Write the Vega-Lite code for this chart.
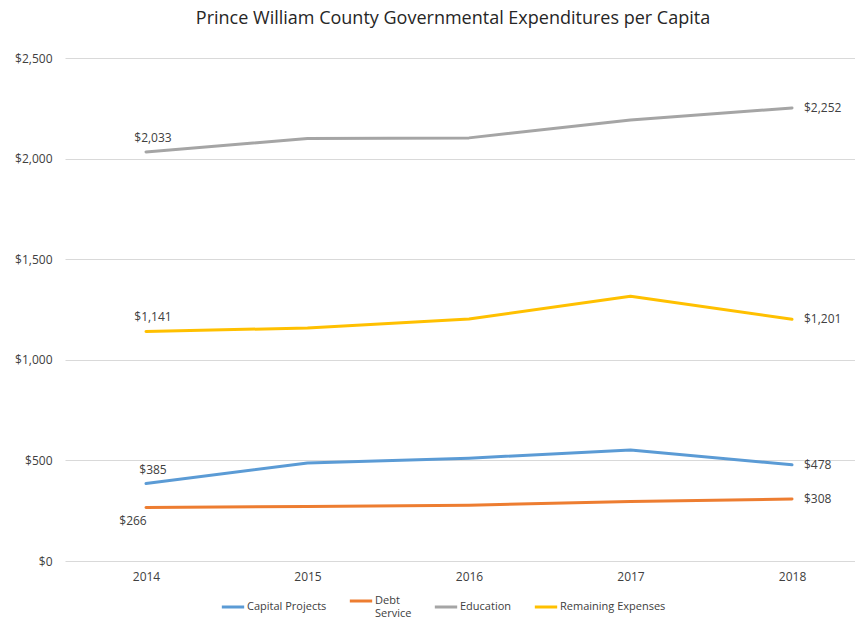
{
  "$schema": "https://vega.github.io/schema/vega-lite/v6.json",
  "autosize": {"type": "none"},
  "width": 790,
  "height": 503,
  "padding": {"left": 65, "top": 58, "right": 0, "bottom": 64},
  "background": "white",
  "config": {
    "font": "Open Sans",
    "view": {"stroke": null}
  },
  "title": {
    "text": "Prince William County Governmental Expenditures per Capita",
    "fontSize": 18,
    "fontWeight": "normal",
    "color": "#262626",
    "font": "Open Sans",
    "anchor": "middle",
    "frame": "group",
    "offset": 24,
    "dx": -7
  },
  "data": {
    "values": [
      {"year": 2014, "series": "Capital Projects", "value": 385},
      {"year": 2015, "series": "Capital Projects", "value": 487},
      {"year": 2016, "series": "Capital Projects", "value": 511},
      {"year": 2017, "series": "Capital Projects", "value": 552},
      {"year": 2018, "series": "Capital Projects", "value": 478},
      {"year": 2014, "series": "Debt Service", "value": 266},
      {"year": 2015, "series": "Debt Service", "value": 271},
      {"year": 2016, "series": "Debt Service", "value": 277},
      {"year": 2017, "series": "Debt Service", "value": 296},
      {"year": 2018, "series": "Debt Service", "value": 308},
      {"year": 2014, "series": "Education", "value": 2033},
      {"year": 2015, "series": "Education", "value": 2100},
      {"year": 2016, "series": "Education", "value": 2103},
      {"year": 2017, "series": "Education", "value": 2192},
      {"year": 2018, "series": "Education", "value": 2252},
      {"year": 2014, "series": "Remaining Expenses", "value": 1141},
      {"year": 2015, "series": "Remaining Expenses", "value": 1158},
      {"year": 2016, "series": "Remaining Expenses", "value": 1203},
      {"year": 2017, "series": "Remaining Expenses", "value": 1316},
      {"year": 2018, "series": "Remaining Expenses", "value": 1201}
    ]
  },
  "encoding": {
    "x": {
      "field": "year",
      "type": "quantitative",
      "scale": {"domain": [2013.4985, 2018.39], "nice": false, "zero": false},
      "axis": {
        "title": null,
        "values": [2014, 2015, 2016, 2017, 2018],
        "format": "d",
        "labelAngle": 0,
        "ticks": false,
        "domain": false,
        "grid": false,
        "labelFontSize": 12,
        "labelColor": "#404040",
        "labelPadding": 10
      }
    },
    "y": {
      "field": "value",
      "type": "quantitative",
      "scale": {"domain": [0, 2500]},
      "axis": {
        "title": null,
        "values": [0, 500, 1000, 1500, 2000, 2500],
        "format": "$,.0f",
        "ticks": false,
        "domain": false,
        "gridColor": "#d9d9d9",
        "gridWidth": 1,
        "labelFontSize": 12,
        "labelColor": "#404040",
        "labelPadding": 13
      }
    }
  },
  "layer": [
    {
      "mark": {"type": "line", "strokeWidth": 3, "strokeCap": "round", "strokeJoin": "round"},
      "encoding": {
        "color": {
          "field": "series",
          "type": "nominal",
          "scale": {
            "domain": ["Capital Projects", "Debt Service", "Education", "Remaining Expenses"],
            "range": ["#5B9BD5", "#ED7D31", "#A5A5A5", "#FFC000"]
          },
          "legend": {
            "title": null,
            "orient": "none",
            "direction": "horizontal",
            "legendX": 155,
            "legendY": 530,
            "symbolType": "stroke",
            "symbolStrokeWidth": 3,
            "symbolSize": 500,
            "labelFontSize": 11,
            "labelColor": "#404040",
            "labelOffset": 1,
            "columnPadding": 16,
            "labelExpr": "datum.label == 'Debt Service' ? ['Debt', 'Service'] : datum.label",
            "labelBaseline": "middle"
          }
        }
      }
    },
    {
      "transform": [{"filter": "datum.year == 2018"}],
      "mark": {"type": "text", "align": "left", "dx": 12, "fontSize": 12, "color": "#404040"},
      "encoding": {"text": {"field": "value", "type": "quantitative", "format": "$,.0f"}}
    },
    {
      "transform": [{"filter": "datum.year == 2014 && datum.series != 'Debt Service'"}],
      "mark": {"type": "text", "align": "center", "dx": 7, "dy": -14, "fontSize": 12, "color": "#404040"},
      "encoding": {"text": {"field": "value", "type": "quantitative", "format": "$,.0f"}}
    },
    {
      "transform": [{"filter": "datum.year == 2014 && datum.series == 'Debt Service'"}],
      "mark": {"type": "text", "align": "center", "dx": -13, "dy": 14, "fontSize": 12, "color": "#404040"},
      "encoding": {"text": {"field": "value", "type": "quantitative", "format": "$,.0f"}}
    }
  ]
}
